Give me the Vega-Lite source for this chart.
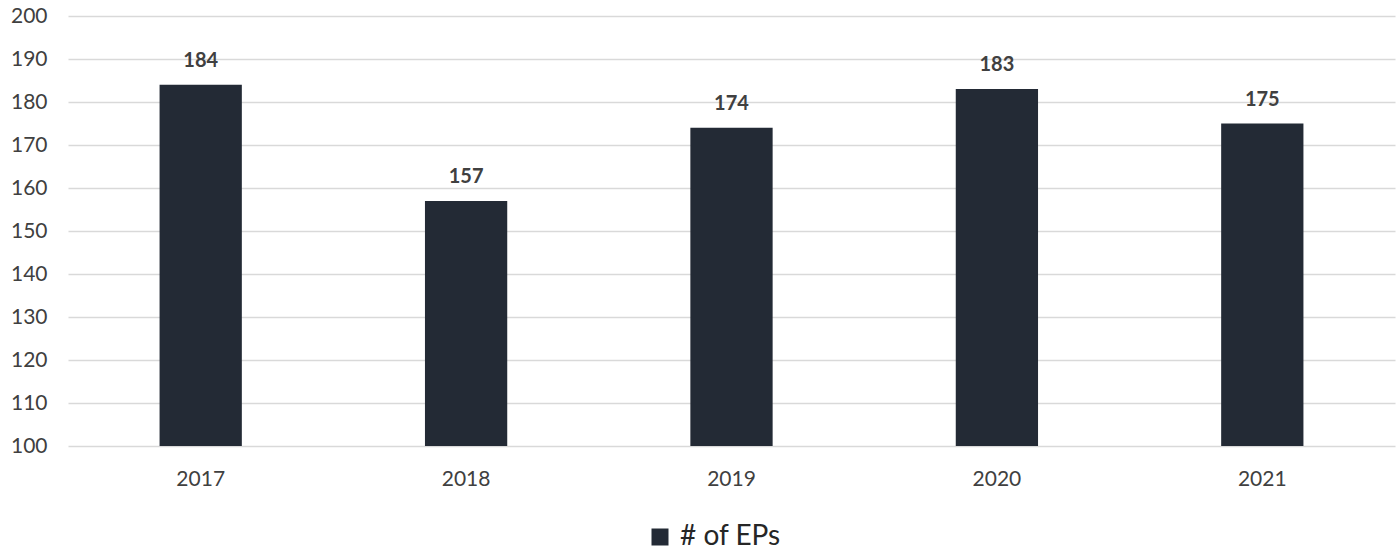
{
  "$schema": "https://vega.github.io/schema/vega-lite/v6.json",
  "width": 1327,
  "height": 430,
  "autosize": {"type": "none"},
  "padding": {"left": 68, "top": 16, "right": 1, "bottom": 104},
  "background": "white",
  "config": {
    "view": {"stroke": null},
    "font": "Lato",
    "axis": {"labelFont": "Lato", "labelColor": "#404040", "labelFontSize": 21}
  },
  "data": {
    "values": [
      {"year": "2017", "eps": 184, "series": "# of EPs"},
      {"year": "2018", "eps": 157, "series": "# of EPs"},
      {"year": "2019", "eps": 174, "series": "# of EPs"},
      {"year": "2020", "eps": 183, "series": "# of EPs"},
      {"year": "2021", "eps": 175, "series": "# of EPs"}
    ]
  },
  "encoding": {
    "x": {
      "field": "year", "type": "nominal",
      "scale": {"paddingInner": 0, "paddingOuter": 0},
      "axis": {"title": null, "labelAngle": 0, "ticks": false, "domain": false, "labelPadding": 22, "grid": false}
    }
  },
  "layer": [
    {
      "mark": {"type": "bar", "width": {"band": 0.31}, "color": "#232a35"},
      "encoding": {
        "y": {
          "field": "eps", "type": "quantitative",
          "scale": {"domain": [100, 200], "zero": false, "nice": false},
          "axis": {
            "title": null, "values": [100,110,120,130,140,150,160,170,180,190,200],
            "labelOverlap": false,
            "ticks": false, "domain": false, "labelPadding": 21,
            "gridColor": "#d9d9d9", "gridWidth": 1.5
          }
        },
        "y2": {"datum": 100},
        "color": {
          "field": "series", "type": "nominal",
          "scale": {"range": ["#232a35"]},
          "legend": {
            "title": null, "orient": "none", "legendX": 578, "legendY": 507,
            "symbolType": "square", "symbolSize": 289, "symbolOpacity": 1,
            "labelFont": "Lato", "labelFontSize": 28, "labelColor": "#262626", "labelOffset": 6
          }
        }
      }
    },
    {
      "mark": {"type": "text", "baseline": "bottom", "dy": -14, "fontWeight": "bold", "fontSize": 20, "font": "Lato", "color": "#404040"},
      "encoding": {
        "y": {"field": "eps", "type": "quantitative"},
        "text": {"field": "eps", "type": "quantitative"}
      }
    }
  ]
}
